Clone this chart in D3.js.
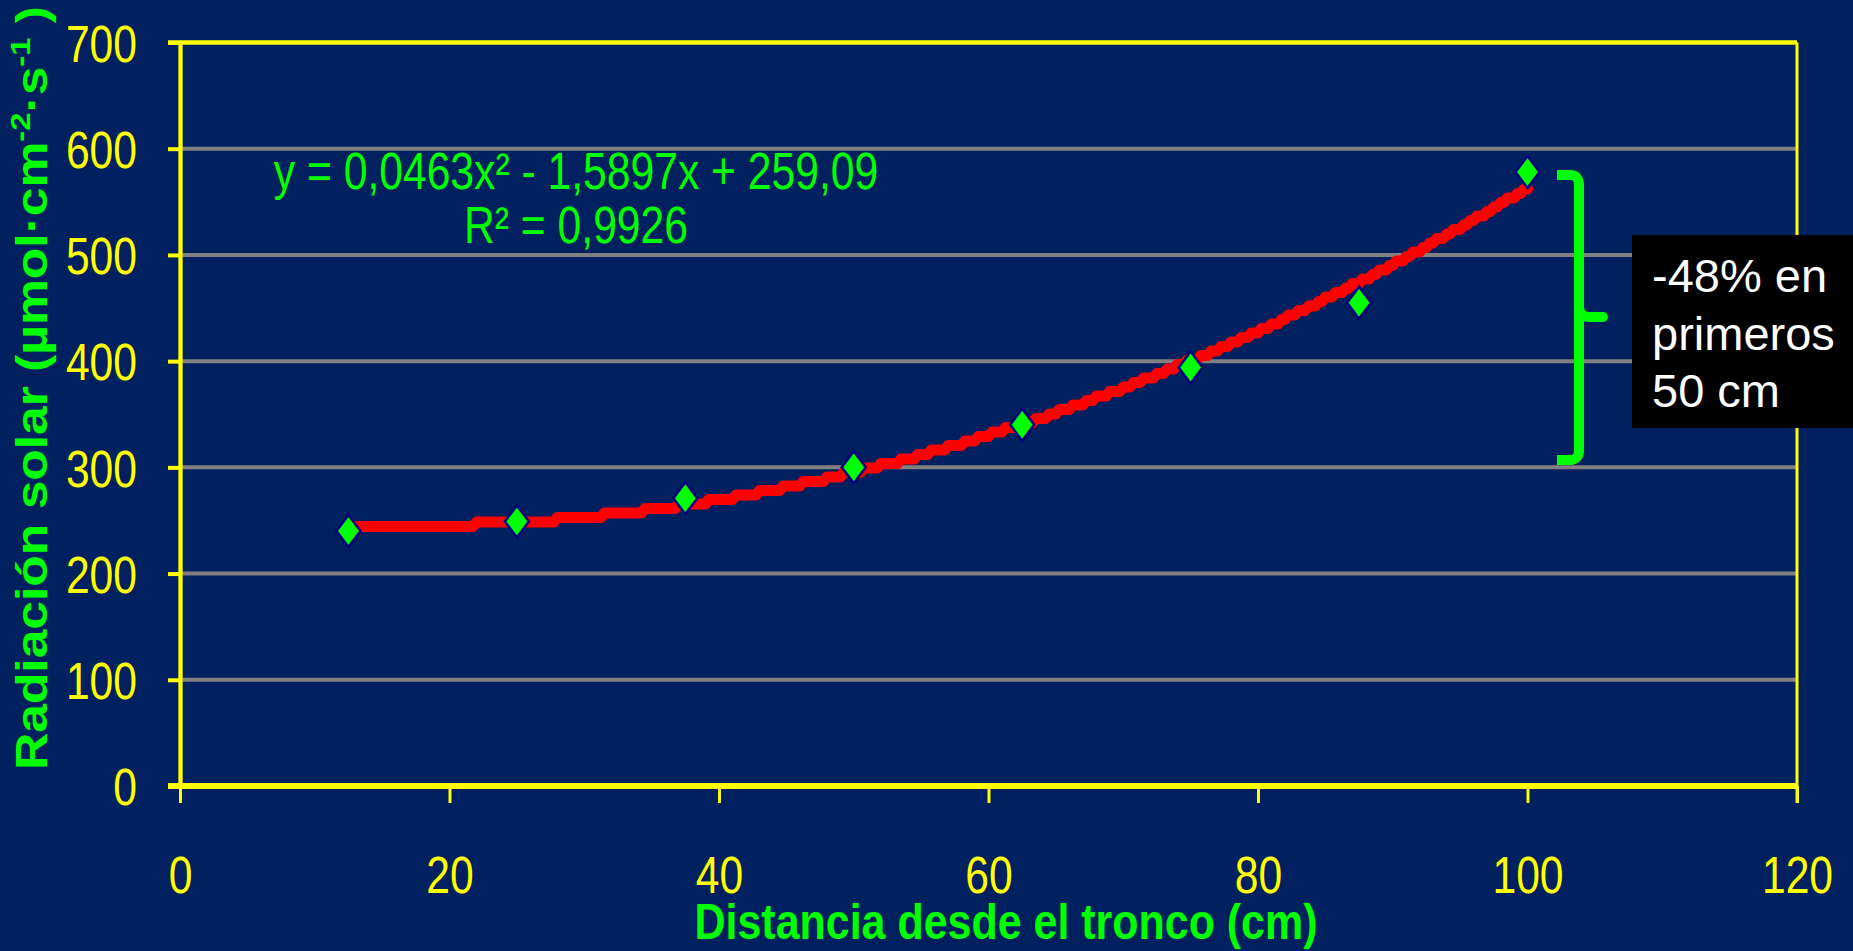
<!DOCTYPE html>
<html>
<head>
<meta charset="utf-8">
<script src="https://cdn.jsdelivr.net/npm/d3@7"></script>
<style>
  html, body { margin: 0; padding: 0; background: #002060; overflow: hidden; }
  svg { display: block; }
</style>
</head>
<body>
<svg id="chart" width="1853" height="951"></svg>
<script>
// ---- data ----
const distances = [12.5, 25, 37.5, 50, 62.5, 75, 87.5, 100];
const radiation = [240, 249, 271, 300, 340, 394, 455, 578];
const trendCoef = [259.09, -1.5897, 0.0463]; // c0 + c1*x + c2*x^2 (from the equation label)
const xTicks = [0, 20, 40, 60, 80, 100, 120];
const yTicks = [0, 100, 200, 300, 400, 500, 600, 700];
const eqLine1 = "y = 0,0463x\u00B2 - 1,5897x + 259,09";
const eqLine2 = "R\u00B2 = 0,9926";
const noteLines = ["-48% en", "primeros", "50 cm"];
const xTitle = "Distancia desde el tronco (cm)";

// ---- layout ----
const W = 1853, H = 951;
const L = 180, R = 1797, T = 42.5, B = 786;
const YEL = "#FFFF00", GRN = "#00FF00", BG = "#002060";
const sans = "'Liberation Sans',Arial,sans-serif";
const NARROW = 0.82;

// emulate a condensed face by compressing the natural width
function narrowize(sel, factor) {
  sel.each(function () {
    const w = this.getComputedTextLength();
    this.setAttribute("textLength", (w * factor).toFixed(1));
    this.setAttribute("lengthAdjust", "spacingAndGlyphs");
  });
}

const svg = d3.select("#chart");
svg.append("rect").attr("width", W).attr("height", H).attr("fill", BG);

const x = d3.scaleLinear().domain([0, 120]).range([L, R]);
const y = d3.scaleLinear().domain([0, 700]).range([B, T]);

// gridlines
svg.append("g").selectAll("line").data(yTicks.filter(v => v > 0 && v < 700)).join("line")
  .attr("x1", L).attr("x2", R).attr("y1", d => y(d)).attr("y2", d => y(d))
  .attr("stroke", "#808080").attr("stroke-width", 4);

// frame: top and right
svg.append("line").attr("x1", L - 12).attr("x2", R).attr("y1", y(700)).attr("y2", y(700))
  .attr("stroke", YEL).attr("stroke-width", 4.3);
svg.append("line").attr("x1", R).attr("x2", R).attr("y1", T).attr("y2", B + 17)
  .attr("stroke", YEL).attr("stroke-width", 3);

// y axis
const yAxis = d3.axisLeft(y).tickValues(yTicks).tickSize(12).tickSizeOuter(0).tickFormat(d3.format("d"));
const gy = svg.append("g").attr("transform", `translate(${L},0)`).call(yAxis);
gy.select(".domain").attr("stroke", YEL).attr("stroke-width", 4.3);
gy.selectAll(".tick line").attr("stroke", YEL).attr("stroke-width", 4);
gy.selectAll(".tick text").attr("fill", YEL).attr("font-family", sans).attr("font-size", 52)
  .attr("x", -43).attr("dy", "0.36em").call(narrowize, NARROW);

// x axis
const xAxis = d3.axisBottom(x).tickValues(xTicks).tickSize(17).tickSizeOuter(0).tickFormat(d3.format("d"));
const gx = svg.append("g").attr("transform", `translate(0,${B})`).call(xAxis);
gx.select(".domain").remove();
gx.selectAll(".tick line").attr("stroke", YEL).attr("stroke-width", 3);
gx.selectAll(".tick text").attr("fill", YEL).attr("font-family", sans).attr("font-size", 52)
  .attr("y", 107).attr("dy", 0).call(narrowize, NARROW);
svg.append("line").attr("x1", L - 12).attr("x2", R).attr("y1", B).attr("y2", B)
  .attr("stroke", YEL).attr("stroke-width", 6);

// trend line (stair-stepped rendering like the original)
const f = v => trendCoef[0] + trendCoef[1] * v + trendCoef[2] * v * v;
const xs = d3.range(distances[0], distances[distances.length - 1] + 0.001, 0.25);
const step = 4.5;
const trendPts = xs.map(v => [x(v), Math.round(y(f(v)) / step) * step]);
svg.append("path").datum(trendPts)
  .attr("d", d3.line().curve(d3.curveLinear))
  .attr("fill", "none").attr("stroke", "#FF0000").attr("stroke-width", 11)
  .attr("stroke-linecap", "round").attr("stroke-linejoin", "round");

// data points (diamonds)
const pts = distances.map((d, i) => [d, radiation[i]]);
svg.append("g").selectAll("path").data(pts).join("path")
  .attr("transform", d => `translate(${x(d[0])},${y(d[1])})`)
  .attr("d", "M0,-16 L12,0 L0,16 L-12,0 Z")
  .attr("fill", GRN).attr("stroke", "#000080").attr("stroke-width", 2.5);

// equation
const eqX = 576;
svg.append("text").attr("x", eqX).attr("y", 189).attr("text-anchor", "middle")
  .attr("fill", GRN).attr("font-family", sans).attr("font-size", 52).text(eqLine1)
  .call(narrowize, NARROW);
svg.append("text").attr("x", eqX).attr("y", 243).attr("text-anchor", "middle")
  .attr("fill", GRN).attr("font-family", sans).attr("font-size", 52).text(eqLine2)
  .call(narrowize, NARROW);

// brace
const bx = 1579;
const brace = d3.path();
brace.moveTo(1557, 175); brace.lineTo(1570, 175);
brace.quadraticCurveTo(bx, 175, bx, 185);
brace.lineTo(bx, 450);
brace.quadraticCurveTo(bx, 460, 1570, 460);
brace.lineTo(1557, 460);
svg.append("path").attr("d", brace.toString()).attr("fill", "none")
  .attr("stroke", GRN).attr("stroke-width", 10).attr("stroke-linejoin", "round");
const nub = d3.path();
nub.moveTo(bx, 306); nub.quadraticCurveTo(bx, 317, 1590, 317); nub.lineTo(1603, 317);
svg.append("path").attr("d", nub.toString()).attr("fill", "none")
  .attr("stroke", GRN).attr("stroke-width", 10).attr("stroke-linecap", "round");

// note box
svg.append("rect").attr("x", 1632).attr("y", 235).attr("width", W - 1632).attr("height", 193).attr("fill", "#000000");
svg.append("g").selectAll("text").data(noteLines).join("text")
  .attr("x", 1652).attr("y", (d, i) => 292 + i * 57.5)
  .attr("fill", "#FFFFFF").attr("font-family", sans).attr("font-size", 47).text(d => d);

// x title
svg.append("text").attr("x", 1006).attr("y", 939).attr("text-anchor", "middle")
  .attr("fill", GRN).attr("font-family", sans).attr("font-weight", "bold").attr("font-size", 50)
  .attr("textLength", 623).attr("lengthAdjust", "spacingAndGlyphs").text(xTitle);

// y title
const yt = svg.append("text").attr("transform", "translate(47,770) rotate(-90)")
  .attr("x", 0).attr("y", 0)
  .attr("fill", GRN).attr("font-family", sans).attr("font-weight", "bold").attr("font-size", 44)
  .attr("textLength", 764).attr("lengthAdjust", "spacingAndGlyphs");
yt.append("tspan").text("Radiación solar (µmol·cm");
yt.append("tspan").attr("dy", -17).attr("font-size", 28).text("-2");
yt.append("tspan").attr("dy", 17).text("·s");
yt.append("tspan").attr("dy", -17).attr("font-size", 28).text("-1");
yt.append("tspan").attr("dy", 17).text(" )");
</script>
</body>
</html>
